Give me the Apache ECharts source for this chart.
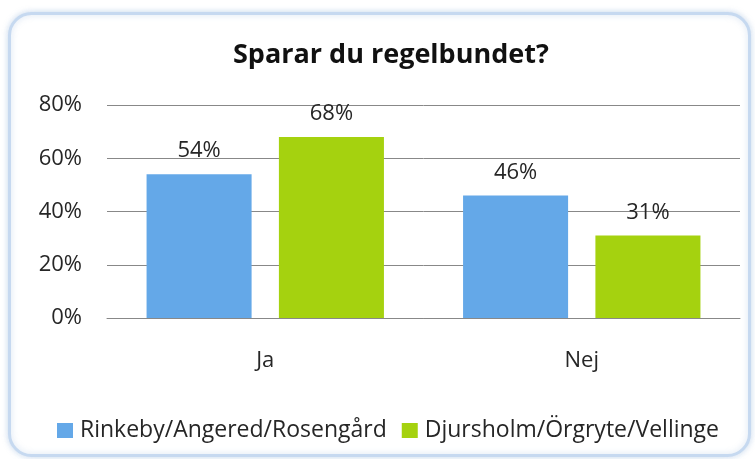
<!DOCTYPE html>
<html>
<head>
<meta charset="utf-8">
<script src="https://cdn.jsdelivr.net/npm/echarts@6/dist/echarts.min.js"></script>
<style>
  html, body { margin: 0; padding: 0; background: #fff; }
  #chart { width: 755px; height: 459px; }
</style>
</head>
<body>
<div id="chart"></div>
<script>
var categories = ['Ja', 'Nej'];
var seriesNames = ['Rinkeby/Angered/Rosengård', 'Djursholm/Örgryte/Vellinge'];
var rinkeby = [54, 46];
var djursholm = [68, 31];
var yTicks = [0, 20, 40, 60, 80];

var chartDom = document.getElementById('chart');
var myChart = echarts.init(chartDom);
var option;

var font = '"Open Sans", Lato, sans-serif';
var textColor = '#262626';

option = {
  textStyle: { fontFamily: font },
  graphic: [
    {
      type: 'rect',
      left: 8,
      top: 12,
      shape: { width: 740, height: 442, r: 22 },
      style: {
        fill: '#fff',
        stroke: '#c6d9f0',
        lineWidth: 3,
        shadowBlur: 6,
        shadowColor: 'rgba(120,160,210,0.35)'
      },
      z: -10
    }
  ],
  title: {
    text: 'Sparar du regelbundet?',
    left: 228,
    top: 37,
    textStyle: { fontFamily: font, fontSize: 27, fontWeight: 'bold', color: '#111' }
  },
  legend: {
    top: 414,
    left: 52,
    itemWidth: 16,
    itemHeight: 15,
    itemGap: 15,
    icon: 'rect',
    textStyle: { fontFamily: font, fontSize: 23, color: textColor, padding: [0, 0, 0, 2] },
    data: seriesNames
  },
  grid: {
    left: 107,
    right: 15,
    top: 105,
    bottom: 141,
    containLabel: false
  },
  xAxis: {
    type: 'category',
    data: categories,
    axisTick: { show: false },
    axisLine: { lineStyle: { color: '#888' } },
    axisLabel: { margin: 32, fontSize: 22, color: textColor, fontFamily: font }
  },
  yAxis: {
    type: 'value',
    min: yTicks[0],
    max: yTicks[yTicks.length - 1],
    interval: 20,
    axisLine: { show: false },
    axisTick: { show: false },
    splitLine: { lineStyle: { color: '#888' } },
    axisLabel: {
      margin: 25,
      fontSize: 22,
      color: textColor,
      fontFamily: font,
      formatter: '{value}%'
    }
  },
  series: [
    {
      name: seriesNames[0],
      type: 'bar',
      data: rinkeby,
      barGap: '26%',
      barCategoryGap: '25%',
      itemStyle: { color: '#64a8e8' },
      label: { show: true, position: 'top', distance: 12, formatter: '{c}%', fontSize: 22, color: textColor, fontFamily: font }
    },
    {
      name: seriesNames[1],
      type: 'bar',
      data: djursholm,
      barGap: '26%',
      barCategoryGap: '25%',
      itemStyle: { color: '#a5d20f' },
      label: { show: true, position: 'top', distance: 12, formatter: '{c}%', fontSize: 22, color: textColor, fontFamily: font }
    }
  ]
};

option && myChart.setOption(option);
</script>
</body>
</html>
